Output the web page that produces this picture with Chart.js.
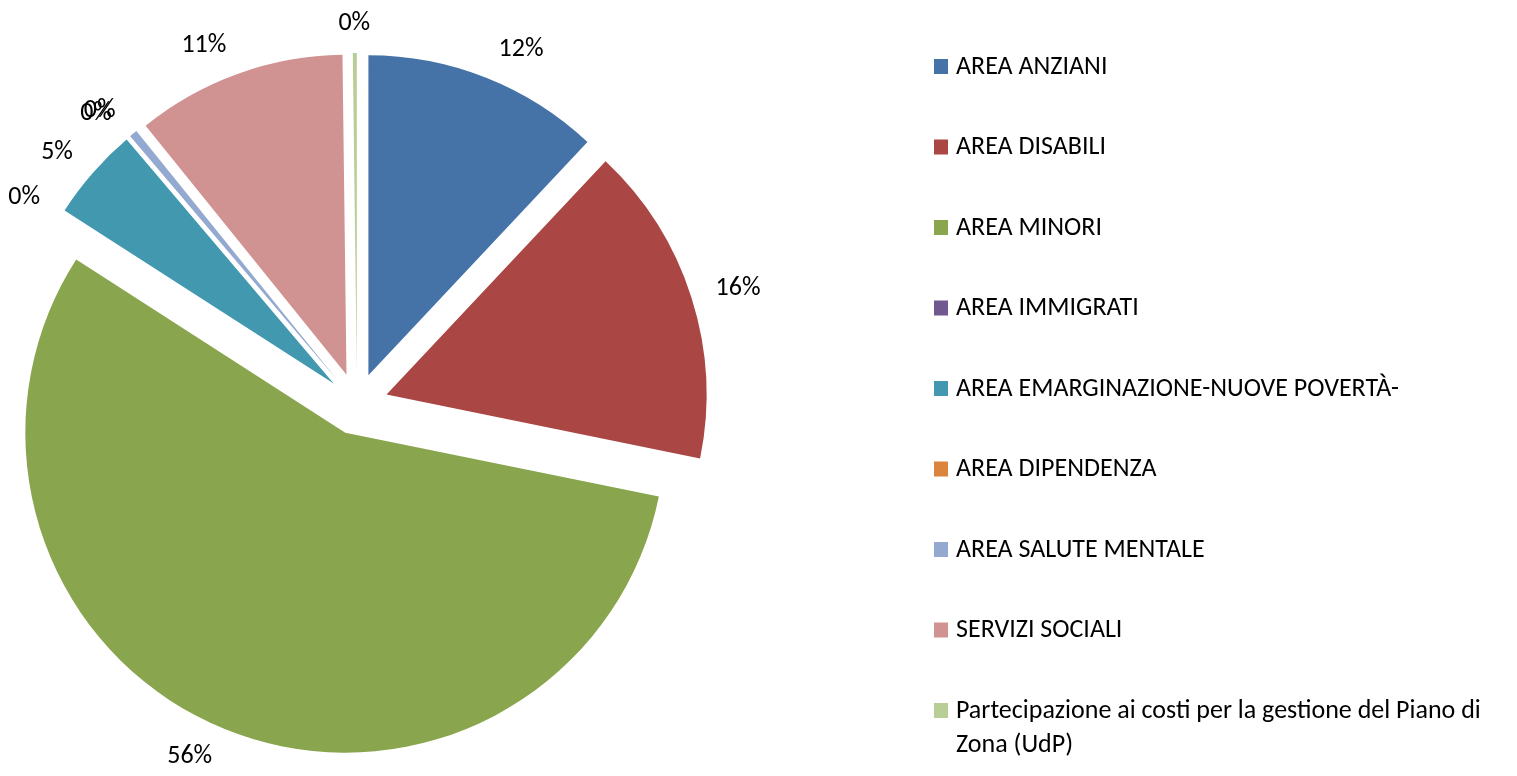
<!DOCTYPE html>
<html>
<head>
<meta charset="utf-8">
<script src="https://cdn.jsdelivr.net/npm/chart.js"></script>
<style>
  html, body { margin: 0; padding: 0; background: #fff; }
  #box { width: 1517px; height: 776px; }
</style>
</head>
<body>
<div id="box"><canvas id="Spesa"></canvas></div>
<script>
var aree = [
  'AREA ANZIANI',
  'AREA DISABILI',
  'AREA MINORI',
  'AREA IMMIGRATI',
  'AREA EMARGINAZIONE-NUOVE POVERTÀ-',
  'AREA DIPENDENZA',
  'AREA SALUTE MENTALE',
  'SERVIZI SOCIALI',
  'Partecipazione ai costi per la gestione del Piano di Zona (UdP)'
];
var quote = [12.0, 16.2, 55.9, 0, 4.7, 0, 0.4, 10.6, 0.2];
var colori = ['#4572A7', '#AA4643', '#89A54E', '#71588F', '#4198AF', '#DB843D', '#93A9CF', '#D19392', '#B9CD96'];

var FONT = '26px Carlito, Lato, sans-serif';
var EXPLODE = 31;

// sposta ogni fetta verso l'esterno lungo la bisettrice
var esploso = {
  id: 'esploso',
  beforeDatasetsDraw: function (chart) {
    var a = chart.chartArea;
    var cx = (a.left + a.right) / 2, cy = (a.top + a.bottom) / 2;
    chart.getDatasetMeta(0).data.forEach(function (el) {
      var mid = (el.startAngle + el.endAngle) / 2;
      el.x = cx + Math.cos(mid) * EXPLODE;
      el.y = cy + Math.sin(mid) * EXPLODE;
    });
  }
};

// percentuali fuori dalle fette
var etichette = {
  id: 'etichette',
  afterDatasetsDraw: function (chart) {
    var ctx = chart.ctx;
    var vals = chart.data.datasets[0].data;
    var tot = vals.reduce(function (s, v) { return s + v; }, 0);
    ctx.save();
    ctx.font = FONT;
    ctx.fillStyle = '#000';
    ctx.textAlign = 'center';
    ctx.textBaseline = 'middle';
    chart.getDatasetMeta(0).data.forEach(function (el, i) {
      var txt = Math.round(vals[i] / tot * 100) + '%';
      var mid = (el.startAngle + el.endAngle) / 2;
      var c = Math.cos(mid), s = Math.sin(mid);
      var d = el.outerRadius + 20;
      var w = ctx.measureText(txt).width;
      var dx = Math.max(-1, Math.min(1, c * 3)) * (w / 2 + 5);
      ctx.fillText(txt, el.x + c * d + dx, el.y + s * d + s * 10);
    });
    ctx.restore();
  }
};

// legenda a destra, con testo a capo
var legenda = {
  id: 'legenda',
  afterDraw: function (chart) {
    var ctx = chart.ctx;
    var x = 934, y = 67, passo = 80.5, maxW = 1517 - 956 - 8;
    ctx.save();
    ctx.font = FONT;
    ctx.textBaseline = 'middle';
    chart.data.labels.forEach(function (lab, i) {
      var yy = y + i * passo;
      ctx.fillStyle = colori[i];
      ctx.fillRect(x, yy - 8, 14, 15);
      ctx.fillStyle = '#000';
      var parole = lab.split(' '), riga = '', righe = [];
      parole.forEach(function (p) {
        var prova = riga ? riga + ' ' + p : p;
        if (ctx.measureText(prova).width > maxW && riga) { righe.push(riga); riga = p; }
        else riga = prova;
      });
      righe.push(riga);
      righe.forEach(function (r, k) { ctx.fillText(r, 956, yy + k * 34); });
    });
    ctx.restore();
  }
};

var torta = new Chart(document.getElementById('Spesa'), {
  type: 'pie',
  data: {
    labels: aree,
    datasets: [{
      data: quote,
      backgroundColor: colori,
      borderWidth: 0
    }]
  },
  options: {
    responsive: true,
    maintainAspectRatio: false,
    animation: false,
    events: [],
    radius: 320,
    layout: { padding: { left: 0, right: 803, top: 32, bottom: 0 } },
    plugins: {
      legend: { display: false },
      tooltip: { enabled: false }
    }
  },
  plugins: [esploso, etichette, legenda]
});
</script>
</body>
</html>
